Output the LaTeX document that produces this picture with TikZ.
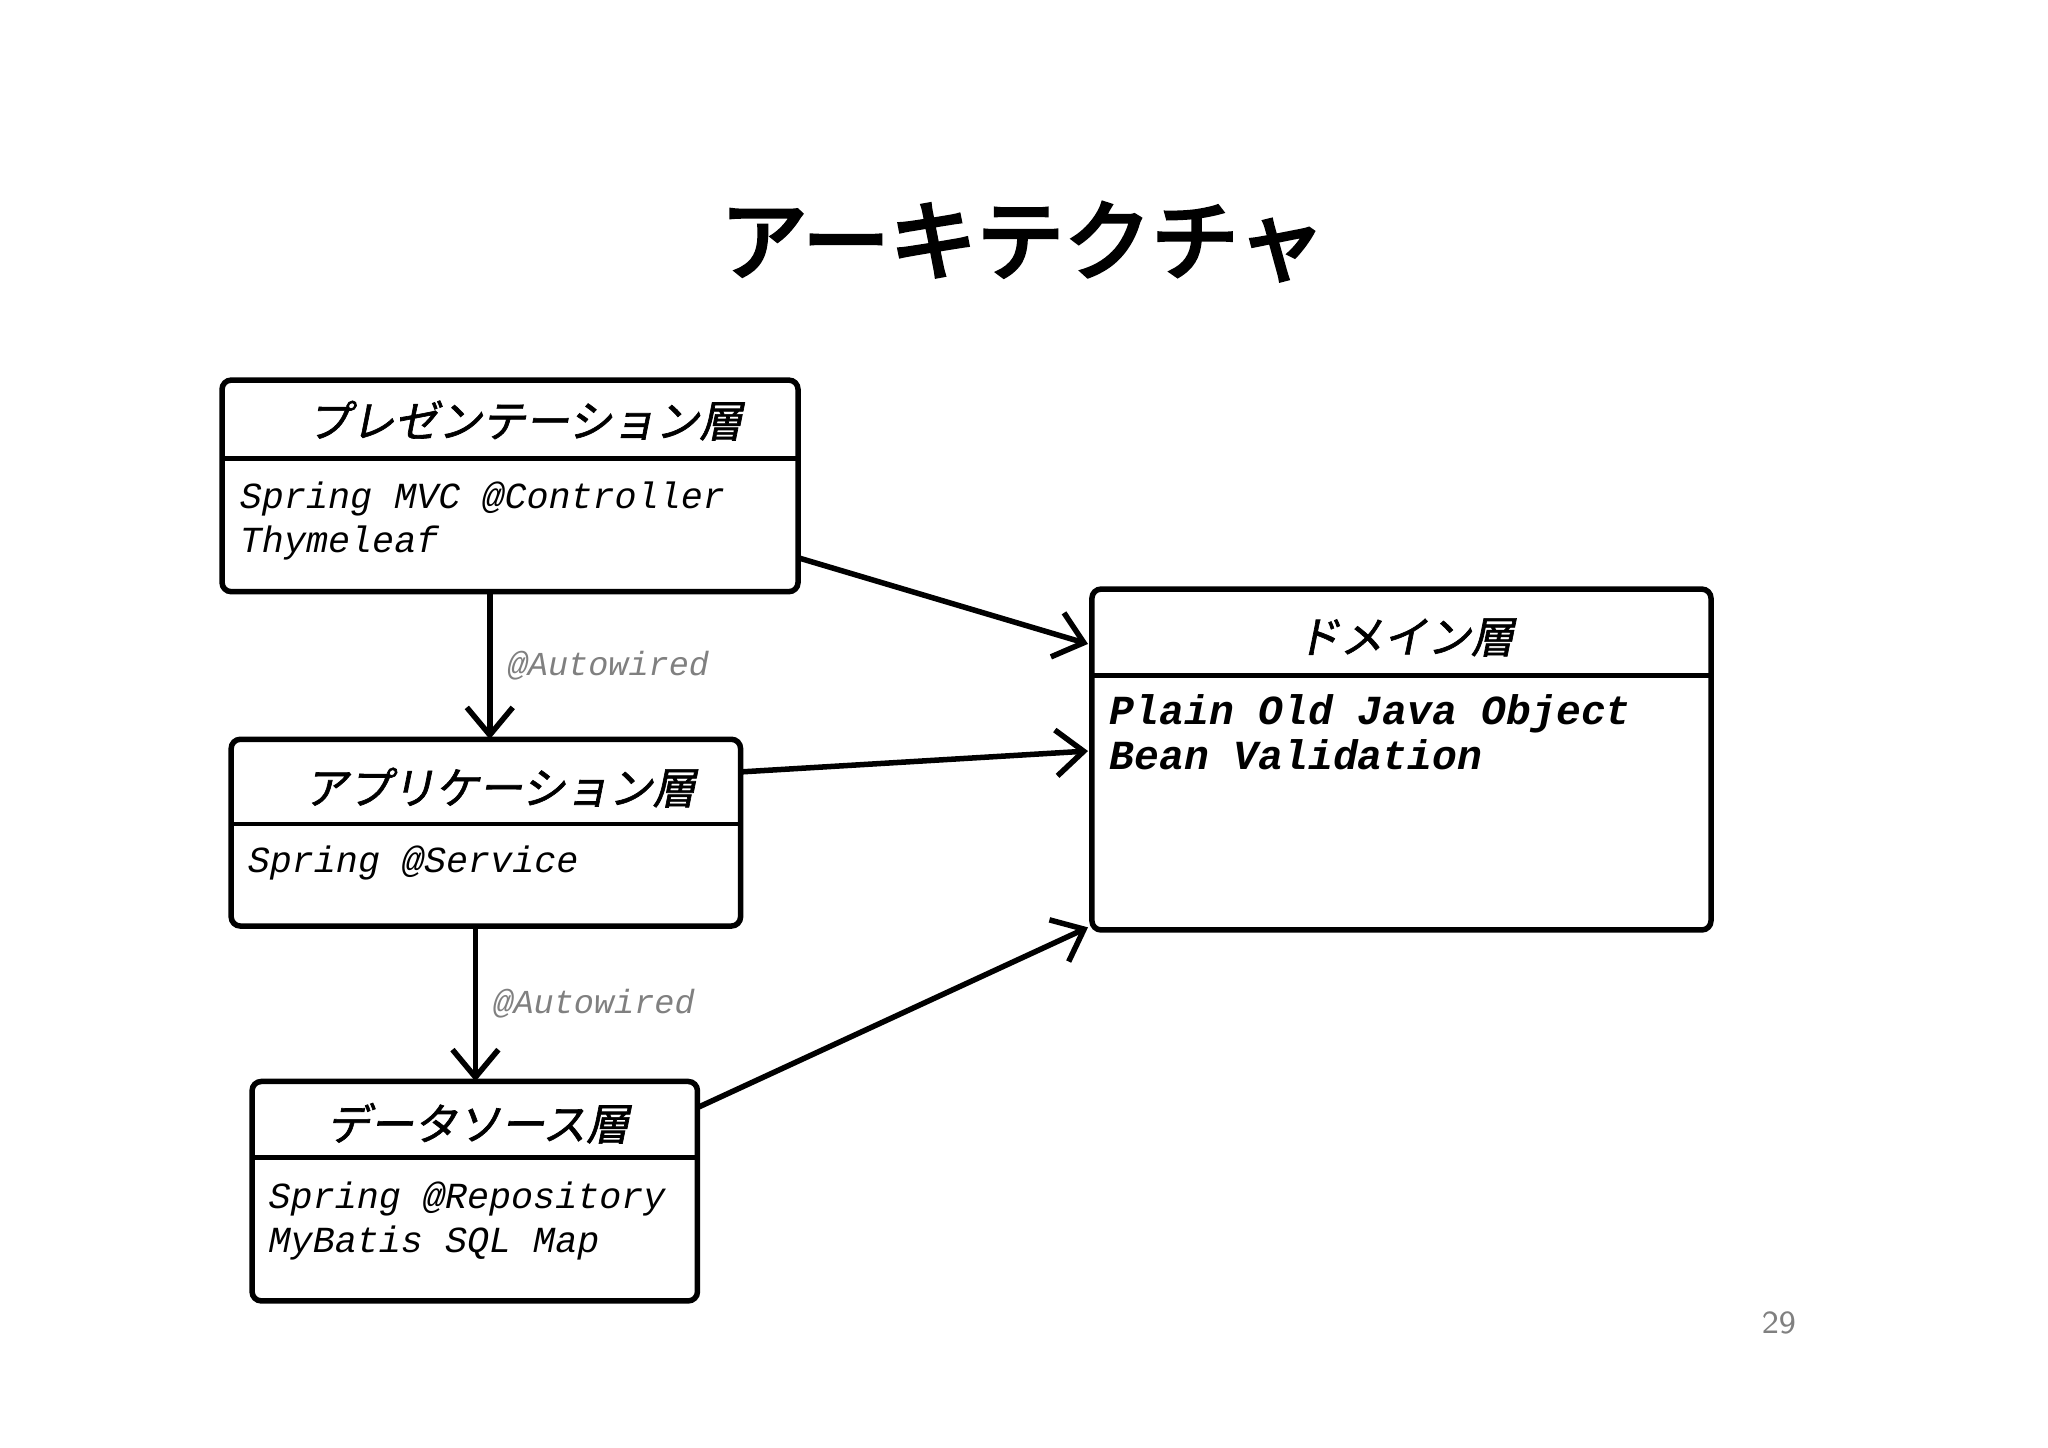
\documentclass[tikz,border=0pt]{standalone}
\usepackage{fontspec}
\setmainfont{Liberation Mono}
\newfontfamily\jp{Noto Sans CJK JP}
\newfontfamily\jpb{Noto Sans CJK JP}[FakeBold=4]
\newfontfamily\jpm{Noto Sans CJK JP}[FakeBold=1.5,FakeSlant=0.2]
\usetikzlibrary{arrows.meta}
\begin{document}
\begin{tikzpicture}[x=0.01cm,y=-0.01cm,
  layerbox/.style={draw,line width=1.2pt,rounded corners=2pt},
  hdr/.style={font=\jpm\fontsize{9.5}{11}\selectfont,anchor=center},
  body/.style={font=\fontsize{8}{9.6}\selectfont\itshape,anchor=north west,align=left,inner sep=0pt},
  conn/.style={line width=1.2pt,-{Straight Barb[length=6pt,width=10pt]}},
  lbl/.style={font=\fontsize{7.3}{9}\selectfont\itshape,text=gray}]
\useasboundingbox (0,0) rectangle (1568,1108);
\node[font=\jpb\fontsize{19}{22}\selectfont] (title) at (783,185) {アーキテクチャ};
% presentation
\draw[layerbox] (170,291) rectangle (611,453);
\draw[line width=1pt] (170,351) -- (611,351);
\node[hdr] (ph) at (402,322) {プレゼンテーション層};
\node[body] (pb) at (183,368) {Spring MVC @Controller\\Thymeleaf};
\coordinate (pbot) at (375,453); \coordinate (pr) at (611,427);
% application
\draw[layerbox] (177,566) rectangle (567,709);
\draw[line width=1pt] (177,631) -- (567,631);
\node[hdr] (ah) at (383,603) {アプリケーション層};
\node[body] (ab) at (189,647) {Spring @Service};
\coordinate (atop) at (375,566); \coordinate (abot) at (364,709); \coordinate (ar) at (567,591);
% datasource
\draw[layerbox] (193,828) rectangle (534,996);
\draw[line width=1pt] (193,886) -- (534,886);
\node[hdr] (dh) at (366,860) {データソース層};
\node[body] (db) at (205,904) {Spring @Repository\\MyBatis SQL Map};
\coordinate (dtop) at (364,828); \coordinate (dr) at (534,848);
% domain
\draw[layerbox] (836,451) rectangle (1310,712);
\draw[line width=1pt] (836,517) -- (1310,517);
\node[hdr] (mh) at (1076,488) {ドメイン層};
\node[body,font=\bfseries\fontsize{9}{9.8}\selectfont\itshape] (mb) at (849,531) {Plain Old Java Object\\Bean Validation};
\coordinate (m1) at (833,493); \coordinate (m2) at (833,575); \coordinate (m3) at (833,710);
% connectors
\draw[conn] (pbot) -- node[lbl,right,pos=0.5] {@Autowired} (atop);
\draw[conn] (abot) -- node[lbl,right,pos=0.5] {@Autowired} (dtop);
\draw[conn] (pr) -- (m1);
\draw[conn] (ar) -- (m2);
\draw[conn] (dr) -- (m3);
\node[font=\sffamily\fontsize{7}{9}\selectfont,text=gray] (pg) at (1362,1013) {29};
\end{tikzpicture}
\end{document}
